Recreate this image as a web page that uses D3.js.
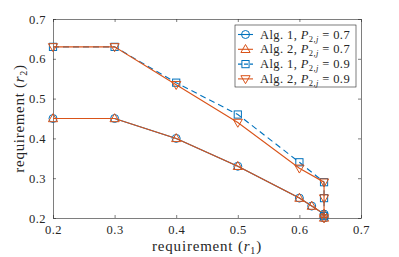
<!DOCTYPE html>
<html>
<head>
<meta charset="utf-8">
<script src="https://cdn.jsdelivr.net/npm/d3@7"></script>
<style>
  body { margin: 0; background: #fff; }
  text { font-family: "Liberation Serif", "DejaVu Serif", serif; fill: #262626; }
</style>
</head>
<body>
<div id="chart"></div>
<script>
// data
var r1Low  = [0.2, 0.3, 0.4, 0.5, 0.6, 0.62, 0.64, 0.64];
var alg1P07 = [0.45, 0.45, 0.40, 0.33, 0.25, 0.23, 0.21, 0.20];
var alg2P07 = [0.45, 0.45, 0.40, 0.33, 0.25, 0.23, 0.21, 0.20];
var r1High = [0.2, 0.3, 0.4, 0.5, 0.6, 0.64, 0.64, 0.64];
var alg1P09 = [0.63, 0.63, 0.54, 0.46, 0.34, 0.29, 0.25, 0.205];
var alg2P09 = [0.63, 0.63, 0.535, 0.44, 0.325, 0.29, 0.25, 0.20];
var xTicks = [0.2, 0.3, 0.4, 0.5, 0.6, 0.7];
var yTicks = [0.2, 0.3, 0.4, 0.5, 0.6, 0.7];
var legendNames = ["Alg. 1, ", "Alg. 2, ", "Alg. 1, ", "Alg. 2, "];
var legendVals = ["0.7", "0.7", "0.9", "0.9"];

var blue = "#0072BD", orange = "#D95319";

var series = [
  { x: r1Low,  y: alg1P07, color: blue,   dash: null,  mark: "circle" },
  { x: r1Low,  y: alg2P07, color: orange, dash: null,  mark: "up" },
  { x: r1High, y: alg1P09, color: blue,   dash: "6,4", mark: "square" },
  { x: r1High, y: alg2P09, color: orange, dash: null,  mark: "down" }
];

var width = 399, height = 257;
var pl = 53, pr = 361, pt = 19, pb = 218;

var svg = d3.select("#chart").append("svg")
    .attr("width", width)
    .attr("height", height);

var x = d3.scaleLinear().domain([0.2, 0.7]).range([pl, pr]);
var y = d3.scaleLinear().domain([0.2, 0.7]).range([pb, pt]);

// axes (box with inward ticks)
var axisColor = "#262626";
svg.append("g").attr("class", "xax").attr("transform", "translate(0," + pb + ")")
  .call(d3.axisBottom(x).tickValues(xTicks).tickSizeInner(-3).tickSizeOuter(0).tickPadding(8).tickFormat(d3.format(".1f")));
svg.append("g").attr("transform", "translate(" + pl + ",0)")
  .call(d3.axisLeft(y).tickValues(yTicks).tickSizeInner(-3).tickSizeOuter(0).tickPadding(7).tickFormat(d3.format(".1f")));
svg.append("g").attr("transform", "translate(0," + pt + ")")
  .call(d3.axisTop(x).tickValues(xTicks).tickSizeInner(-3).tickSizeOuter(0).tickFormat(""));
svg.append("g").attr("transform", "translate(" + pr + ",0)")
  .call(d3.axisRight(y).tickValues(yTicks).tickSizeInner(-3).tickSizeOuter(0).tickFormat(""));
svg.selectAll(".domain, .tick line").attr("stroke", axisColor).attr("stroke-width", 0.6);
svg.selectAll(".tick text").attr("font-size", 12.5).attr("letter-spacing", 0.5)
  .style("font-family", "Liberation Serif, serif").attr("fill", axisColor);
svg.selectAll(".xax .tick text").attr("dy", "0.62em");

// axis labels
var xl = svg.append("text").attr("x", (pl + pr) / 2).attr("y", 250.5)
  .attr("text-anchor", "middle").attr("font-size", 15).attr("letter-spacing", 0.8);
xl.append("tspan").text("requirement (");
xl.append("tspan").attr("font-style", "italic").text("r");
xl.append("tspan").attr("font-size", 10).attr("dy", 3).text("1");
xl.append("tspan").attr("dy", -3).text(")");

var yl = svg.append("text").attr("transform", "translate(24," + ((pt + pb) / 2) + ") rotate(-90)")
  .attr("text-anchor", "middle").attr("font-size", 15).attr("letter-spacing", 0.7);
yl.append("tspan").text("requirement (");
yl.append("tspan").attr("font-style", "italic").text("r");
yl.append("tspan").attr("font-size", 10).attr("dy", 3).text("2");
yl.append("tspan").attr("dy", -3).text(")");

function drawMarker(g, kind, cx, cy, color) {
  if (kind == "circle") {
    g.append("circle").attr("cx", cx).attr("cy", cy).attr("r", 4)
      .attr("fill", "none").attr("stroke", color).attr("stroke-width", 1);
  } else if (kind == "square") {
    g.append("rect").attr("x", cx - 3.6).attr("y", cy - 3.6).attr("width", 7.2).attr("height", 7.2)
      .attr("fill", "none").attr("stroke", color).attr("stroke-width", 1);
  } else {
    var s = kind == "up" ? 1 : -1;
    var pts = [[cx, cy - 4.8 * s], [cx - 4.6, cy + 3.2 * s], [cx + 4.6, cy + 3.2 * s]];
    g.append("path").attr("d", "M" + pts.join("L") + "Z")
      .attr("fill", "none").attr("stroke", color).attr("stroke-width", 1);
  }
}

var line = d3.line().x(function(d) { return x(d[0]); }).y(function(d) { return y(d[1]); });

series.forEach(function(s) {
  var pts = d3.zip(s.x, s.y);
  var g = svg.append("g");
  g.append("path").datum(pts).attr("d", line)
    .attr("fill", "none").attr("stroke", s.color).attr("stroke-width", 1.1)
    .attr("stroke-dasharray", s.dash);
  pts.forEach(function(p) { drawMarker(g, s.mark, x(p[0]), y(p[1]), s.color); });
});

// legend
var lx = 235, ly = 25, lw = 121, lh = 62;
var lg = svg.append("g");
lg.append("rect").attr("x", lx).attr("y", ly).attr("width", lw).attr("height", lh)
  .attr("fill", "#fff").attr("stroke", axisColor).attr("stroke-width", 0.6);
series.forEach(function(s, i) {
  var yy = ly + 9.5 + i * 14.8;
  lg.append("line").attr("x1", lx + 3).attr("x2", lx + 18).attr("y1", yy).attr("y2", yy)
    .attr("stroke", s.color).attr("stroke-width", 1.1).attr("stroke-dasharray", s.dash ? "4,2" : null);
  drawMarker(lg, s.mark, lx + 10.5, yy, s.color);
  var t = lg.append("text").attr("x", lx + 25).attr("y", yy + 4).attr("font-size", 12.5).attr("letter-spacing", 0.4);
  t.append("tspan").text(legendNames[i]);
  t.append("tspan").attr("font-style", "italic").text("P");
  t.append("tspan").attr("font-size", 8.5).attr("dy", 3).text("2,");
  t.append("tspan").attr("font-size", 8.5).attr("font-style", "italic").text("j");
  t.append("tspan").attr("dy", -3).text(" = " + legendVals[i]);
});
</script>
</body>
</html>
